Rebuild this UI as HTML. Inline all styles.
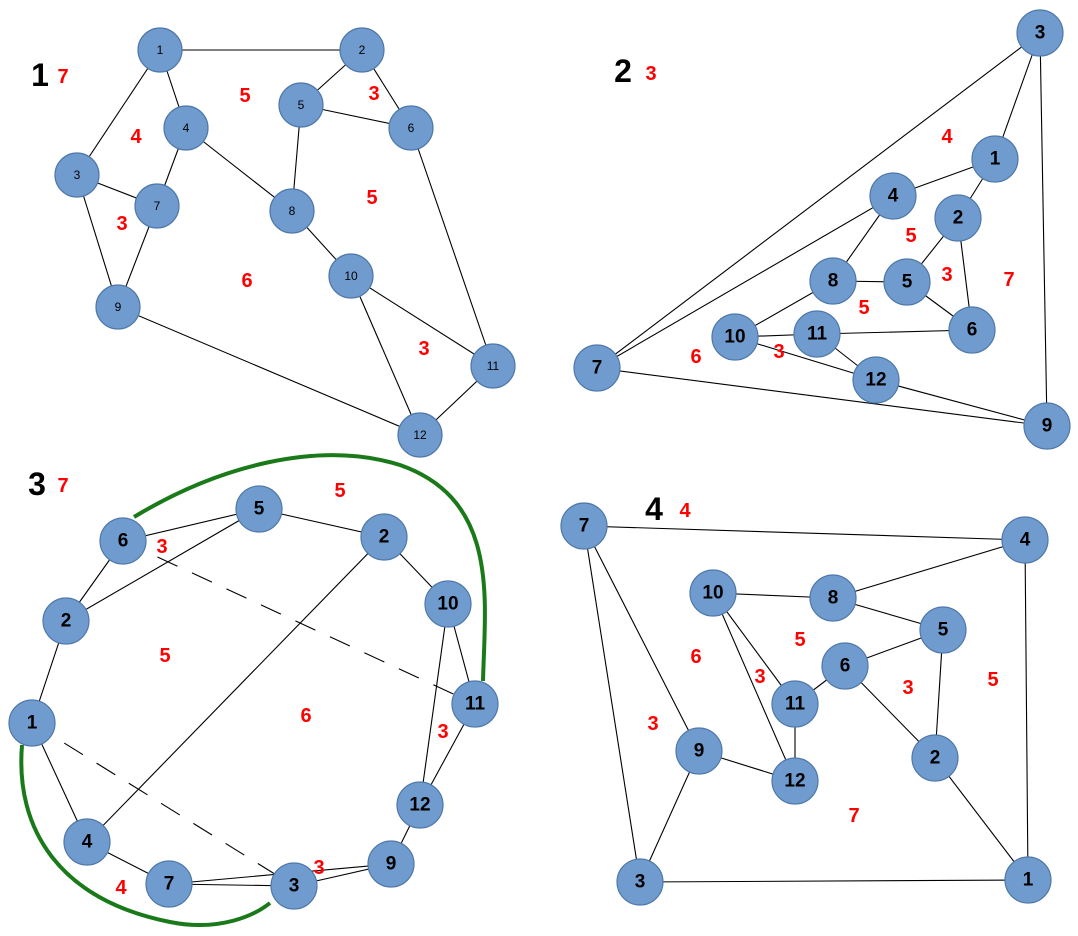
<!DOCTYPE html>
<html><head><meta charset="utf-8"><style>html,body{margin:0;padding:0;background:#fff}svg{display:block}</style></head><body>
<svg width="1078" height="936" xmlns="http://www.w3.org/2000/svg" font-family="Liberation Sans, sans-serif">
<g stroke="#000" stroke-width="1.1" fill="none">
<!-- panel 1 -->
<line x1="160" y1="50" x2="362" y2="50"/><line x1="160" y1="50" x2="186" y2="128"/><line x1="160" y1="50" x2="77" y2="175"/>
<line x1="362" y1="50" x2="301" y2="105"/><line x1="362" y1="50" x2="411" y2="128"/><line x1="301" y1="105" x2="411" y2="128"/>
<line x1="301" y1="105" x2="292" y2="211"/><line x1="186" y1="128" x2="292" y2="211"/><line x1="186" y1="128" x2="157" y2="206"/>
<line x1="77" y1="175" x2="157" y2="206"/><line x1="77" y1="175" x2="118" y2="307"/><line x1="157" y1="206" x2="118" y2="307"/>
<line x1="292" y1="211" x2="351" y2="276"/><line x1="351" y1="276" x2="493" y2="366"/><line x1="351" y1="276" x2="420" y2="435"/>
<line x1="411" y1="128" x2="493" y2="366"/><line x1="493" y1="366" x2="420" y2="435"/><line x1="118" y1="307" x2="420" y2="435"/>
<!-- panel 2 -->
<line x1="1040" y1="33" x2="995" y2="159"/><line x1="1040" y1="33" x2="1047" y2="426"/><line x1="1040" y1="33" x2="597" y2="368"/>
<line x1="893" y1="196" x2="597" y2="368"/><line x1="893" y1="196" x2="995" y2="159"/><line x1="995" y1="159" x2="958" y2="218"/>
<line x1="958" y1="218" x2="907" y2="282"/><line x1="958" y1="218" x2="972" y2="330"/><line x1="893" y1="196" x2="833" y2="281"/>
<line x1="833" y1="281" x2="907" y2="282"/><line x1="907" y1="282" x2="972" y2="330"/><line x1="833" y1="281" x2="735" y2="337"/>
<line x1="735" y1="337" x2="817" y2="334"/><line x1="817" y1="334" x2="972" y2="330"/><line x1="817" y1="334" x2="876" y2="380"/>
<line x1="735" y1="337" x2="876" y2="380"/><line x1="876" y1="380" x2="1047" y2="426"/><line x1="597" y1="368" x2="1047" y2="426"/>
<!-- panel 3 -->
<line x1="123" y1="541" x2="259" y2="509"/><line x1="123" y1="541" x2="66" y2="621"/><line x1="259" y1="509" x2="66" y2="621"/>
<line x1="259" y1="509" x2="384" y2="537"/><line x1="384" y1="537" x2="448" y2="604"/><line x1="448" y1="604" x2="475" y2="704"/>
<line x1="448" y1="604" x2="420" y2="805"/><line x1="475" y1="704" x2="420" y2="805"/><line x1="66" y1="621" x2="32" y2="723"/>
<line x1="32" y1="723" x2="87" y2="842"/><line x1="87" y1="842" x2="169" y2="884"/><line x1="384" y1="537" x2="87" y2="842"/>
<line x1="169" y1="884" x2="294" y2="886"/><line x1="169" y1="884" x2="391" y2="864"/><line x1="420" y1="805" x2="391" y2="864"/>
<line x1="391" y1="864" x2="294" y2="886"/>
<line x1="123" y1="541" x2="475" y2="704" stroke-dasharray="22,16"/><line x1="32" y1="723" x2="294" y2="886" stroke-dasharray="22,16"/>
<!-- panel 4 -->
<line x1="584" y1="526" x2="1025" y2="540"/><line x1="584" y1="526" x2="699" y2="751"/><line x1="584" y1="526" x2="640" y2="882"/>
<line x1="1025" y1="540" x2="833" y2="598"/><line x1="1025" y1="540" x2="1028" y2="880"/><line x1="713" y1="593" x2="833" y2="598"/>
<line x1="833" y1="598" x2="943" y2="630"/><line x1="713" y1="593" x2="795" y2="704"/><line x1="713" y1="593" x2="795" y2="781"/>
<line x1="943" y1="630" x2="845" y2="666"/><line x1="845" y1="666" x2="795" y2="704"/><line x1="845" y1="666" x2="935" y2="758"/>
<line x1="943" y1="630" x2="935" y2="758"/><line x1="935" y1="758" x2="1028" y2="880"/><line x1="795" y1="704" x2="795" y2="781"/>
<line x1="699" y1="751" x2="795" y2="781"/><line x1="699" y1="751" x2="640" y2="882"/><line x1="640" y1="882" x2="1028" y2="880"/>
</g>
<g stroke="#1a7a1a" stroke-width="4" fill="none">
<path d="M134,517 C220,465 320,440 400,465 C500,500 485,600 483,681"/>
<path d="M22,745 C15,830 60,900 170,922 C220,932 255,915 270,903"/>
</g>
<g fill="#6f9bcf" stroke="#4f78a8" stroke-width="1.2">
<circle cx="160" cy="50" r="22"/><circle cx="362" cy="50" r="22"/><circle cx="186" cy="128" r="22"/><circle cx="301" cy="105" r="22"/>
<circle cx="411" cy="128" r="22"/><circle cx="77" cy="175" r="22"/><circle cx="157" cy="206" r="22"/><circle cx="292" cy="211" r="22"/>
<circle cx="351" cy="276" r="22"/><circle cx="118" cy="307" r="22"/><circle cx="493" cy="366" r="22"/><circle cx="420" cy="435" r="22"/>
<circle cx="1040" cy="33" r="23"/><circle cx="995" cy="159" r="23"/><circle cx="893" cy="196" r="23"/><circle cx="958" cy="218" r="23"/>
<circle cx="833" cy="281" r="23"/><circle cx="907" cy="282" r="23"/><circle cx="597" cy="368" r="23"/><circle cx="735" cy="337" r="23"/>
<circle cx="817" cy="334" r="23"/><circle cx="972" cy="330" r="23"/><circle cx="876" cy="380" r="23"/><circle cx="1047" cy="426" r="23"/>
<circle cx="123" cy="541" r="23"/><circle cx="259" cy="509" r="23"/><circle cx="384" cy="537" r="23"/><circle cx="66" cy="621" r="23"/>
<circle cx="448" cy="604" r="23"/><circle cx="32" cy="723" r="23"/><circle cx="475" cy="704" r="23"/><circle cx="420" cy="805" r="23"/>
<circle cx="87" cy="842" r="23"/><circle cx="391" cy="864" r="23"/><circle cx="169" cy="884" r="23"/><circle cx="294" cy="886" r="23"/>
<circle cx="584" cy="526" r="23"/><circle cx="1025" cy="540" r="23"/><circle cx="713" cy="593" r="23"/><circle cx="833" cy="598" r="23"/>
<circle cx="943" cy="630" r="23"/><circle cx="845" cy="666" r="23"/><circle cx="795" cy="704" r="23"/><circle cx="699" cy="751" r="23"/>
<circle cx="935" cy="758" r="23"/><circle cx="795" cy="781" r="23"/><circle cx="640" cy="882" r="23"/><circle cx="1028" cy="880" r="23"/>
</g>
<g font-size="12" text-anchor="middle" dominant-baseline="central" fill="#000">
<text x="160" y="50">1</text><text x="362" y="50">2</text><text x="186" y="128">4</text><text x="301" y="105">5</text>
<text x="411" y="128">6</text><text x="77" y="175">3</text><text x="157" y="206">7</text><text x="292" y="211">8</text>
<text x="351" y="276">10</text><text x="118" y="307">9</text><text x="493" y="366">11</text><text x="420" y="435">12</text>
</g>
<g font-size="19" font-weight="bold" text-anchor="middle" dominant-baseline="central" fill="#000">
<text x="1040" y="33">3</text><text x="995" y="159">1</text><text x="893" y="196">4</text><text x="958" y="218">2</text>
<text x="833" y="281">8</text><text x="907" y="282">5</text><text x="597" y="368">7</text><text x="735" y="337">10</text>
<text x="817" y="334">11</text><text x="972" y="330">6</text><text x="876" y="380">12</text><text x="1047" y="426">9</text>
<text x="123" y="541">6</text><text x="259" y="509">5</text><text x="384" y="537">2</text><text x="66" y="621">2</text>
<text x="448" y="604">10</text><text x="32" y="723">1</text><text x="475" y="704">11</text><text x="420" y="805">12</text>
<text x="87" y="842">4</text><text x="391" y="864">9</text><text x="169" y="884">7</text><text x="294" y="886">3</text>
<text x="584" y="526">7</text><text x="1025" y="540">4</text><text x="713" y="593">10</text><text x="833" y="598">8</text>
<text x="943" y="630">5</text><text x="845" y="666">6</text><text x="795" y="704">11</text><text x="699" y="751">9</text>
<text x="935" y="758">2</text><text x="795" y="781">12</text><text x="640" y="882">3</text><text x="1028" y="880">1</text>
</g>
<g font-size="32" font-weight="bold" text-anchor="middle" dominant-baseline="central" fill="#000">
<text x="40" y="75">1</text><text x="623" y="71">2</text><text x="37" y="484">3</text><text x="654" y="509">4</text>
</g>
<g font-size="20" font-weight="bold" text-anchor="middle" dominant-baseline="central" fill="#f00">
<text x="63" y="77">7</text><text x="245" y="96">5</text><text x="374" y="94">3</text><text x="136" y="137">4</text>
<text x="372" y="198">5</text><text x="122" y="224">3</text><text x="247" y="281">6</text><text x="424" y="349">3</text>
<text x="651" y="74">3</text><text x="947" y="137">4</text><text x="911" y="236">5</text><text x="947" y="275">3</text>
<text x="1009" y="280">7</text><text x="864" y="308">5</text><text x="696" y="357">6</text><text x="779" y="352">3</text>
<text x="63" y="486">7</text><text x="340" y="491">5</text><text x="162" y="547">3</text><text x="165" y="656">5</text>
<text x="306" y="716">6</text><text x="443" y="732">3</text><text x="121" y="888">4</text><text x="319" y="868">3</text>
<text x="685" y="511">4</text><text x="800" y="640">5</text><text x="696" y="657">6</text><text x="760" y="677">3</text>
<text x="908" y="688">3</text><text x="993" y="680">5</text><text x="653" y="724">3</text><text x="854" y="816">7</text>
</g>
</svg>
</body></html>
